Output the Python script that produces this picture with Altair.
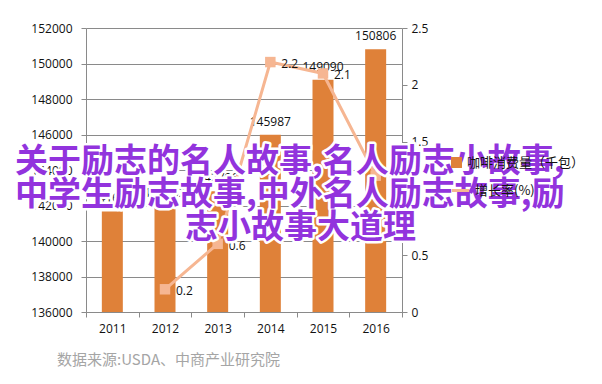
import altair as alt
import pandas as pd

years = ["2011", "2012", "2013", "2014", "2015", "2016"]
consumption = [141666, 141952, 142796, 145987, 149090, 150806]
growth_years = ["2012", "2013", "2014", "2015", "2016"]
growth = [0.2, 0.6, 2.2, 2.1, 1.2]
bar_name = "咖啡消费量（千包）"
line_name = "增长率(%)"
overlay_lines = ["关于励志的名人故事,名人励志小故事,", "中学生励志故事,中外名人励志故事,励", "志小故事大道理"]
source_text = "数据来源:USDA、中商产业研究院"

bars_df = pd.DataFrame({"year": years, "value": consumption, "s": bar_name})
line_df = pd.DataFrame({"year": growth_years, "rate": growth, "s": line_name})

BAR = "#DF8139"
LINE = "#F6B692"
GRAY = "#8a8a8a"
FONT = "Open Sans"

def X():
    return alt.X("year:N", sort=years, scale=alt.Scale(domain=years, paddingInner=0, paddingOuter=0),
                 axis=alt.Axis(title=None, labelAngle=0, tickBand="extent", domainColor=GRAY,
                               tickColor=GRAY, tickSize=5, labelPadding=6, labelFontSize=12,
                               labelFont=FONT, labelColor="#111", labelOverlap=False, grid=False))

def YL():
    return alt.Y("value:Q", scale=alt.Scale(domain=[136000, 152000], nice=False, zero=False, clamp=True),
                 axis=alt.Axis(title=None, values=list(range(136000, 152001, 2000)), format="d",
                               grid=True, gridColor=GRAY, domainColor=GRAY, tickColor=GRAY, tickSize=5,
                               labelPadding=9, labelFontSize=12, labelFont=FONT, labelColor="#111",
                               labelOverlap=False))

def YR():
    return alt.Y("rate:Q", scale=alt.Scale(domain=[0, 2.5], nice=False),
                 axis=alt.Axis(title=None, orient="right", values=[0, 0.5, 1, 1.5, 2, 2.5], format="~g",
                               grid=False, domainColor=GRAY, tickColor=GRAY, tickSize=5, labelPadding=4,
                               labelFontSize=12, labelFont=FONT, labelColor="#111", labelOverlap=False))

bars = alt.Chart(bars_df).mark_bar(size=21).encode(
    x=X(),
    y=YL(),
    y2=alt.datum(136000),
    color=alt.Color("s:N", scale=alt.Scale(domain=[bar_name], range=[BAR]),
                    legend=alt.Legend(title=None, orient="none", legendX=364, legendY=128,
                                      symbolType="square", symbolSize=120, labelFontSize=13,
                                      labelFont="Noto Sans CJK SC", labelColor="#111")),
)
bar_labels = alt.Chart(bars_df).mark_text(dy=-13, fontSize=12, font=FONT, color="#111").encode(
    x=X(), y=YL(), text=alt.Text("value:Q", format="d"))

line = alt.Chart(line_df).mark_line(strokeWidth=3).encode(
    x=X(),
    y=YR(),
    color=alt.Color("s:N", scale=alt.Scale(domain=[line_name], range=[LINE]),
                    legend=alt.Legend(title=None, orient="none", legendX=364, legendY=152,
                                      symbolType="stroke", symbolStrokeWidth=3, symbolSize=300,
                                      labelFontSize=13, labelFont="Noto Sans CJK SC", labelColor="#111")),
)
points = alt.Chart(line_df).mark_point(shape="square", filled=True, size=110, opacity=1, color=LINE).encode(
    x=X(), y=YR())
point_labels = alt.Chart(line_df).mark_text(align="left", dx=11, dy=2, fontSize=12, font=FONT, color="#111").encode(
    x=X(), y=YR(), text="rate:Q")

right_layer = alt.layer(line, points, point_labels)
left_layer = alt.layer(bars, bar_labels)

ov_pos = [(-71, 134), (-71, 167), (99, 200)]

def overlay_text(txt, x, y, stroke):
    kw = dict(align="left", baseline="middle", fontSize=33, font="Noto Sans CJK SC", fontWeight="bold", text=txt)
    if stroke:
        m = alt.Chart(pd.DataFrame({"a": [0]})).mark_text(stroke="white", strokeWidth=5, fill="white",
                                                          strokeJoin="round", **kw)
    else:
        m = alt.Chart(pd.DataFrame({"a": [0]})).mark_text(fill="#9233DD", **kw)
    return m.encode(x=alt.value(x), y=alt.value(y))

overlays = [overlay_text(t, x, y, True) for t, (x, y) in zip(overlay_lines, ov_pos)] + \
           [overlay_text(t, x, y, False) for t, (x, y) in zip(overlay_lines, ov_pos)]

source = alt.Chart(pd.DataFrame({"a": [0]})).mark_text(
    align="left", baseline="middle", fontSize=15, font="Noto Sans CJK SC", color="#a5a5a5",
    text=source_text).encode(x=alt.value(-29), y=alt.value(332))

chart = alt.layer(left_layer, right_layer).resolve_scale(y="independent", color="independent")
chart = alt.layer(chart, *overlays, source).properties(
    width=316, height=284,
    autosize=alt.AutoSizeParams(type="none"),
    padding={"left": 78, "top": 20, "right": 192, "bottom": 64},
    background="white",
).configure_view(stroke=None)

chart.save("out.html", embed_options={"renderer": "svg", "actions": False})
